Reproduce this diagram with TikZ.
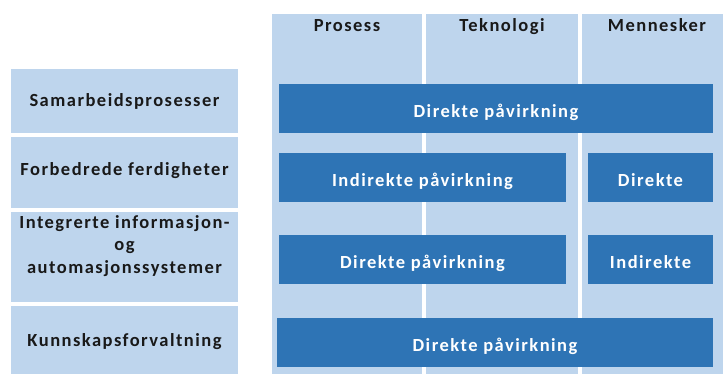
\documentclass[tikz,border=0pt]{standalone}
\usepackage{fontspec}
\setmainfont{Carlito}[LetterSpace=8]
\definecolor{lightblue}{RGB}{190,213,237}
\definecolor{darkblue}{RGB}{46,116,181}
\definecolor{labeltext}{RGB}{25,25,25}
\tikzset{
	col/.style={fill=lightblue, inner sep=0pt, minimum height=360pt},
	colhead/.style={text=labeltext, font=\fontsize{18.5}{22.5}\selectfont\bfseries, text height=12pt, text depth=0pt, inner sep=0pt},
	rowbox/.style={fill=lightblue, inner sep=0pt, minimum width=227pt, text=labeltext, font=\fontsize{18.5}{22.5}\selectfont\bfseries, text height=12pt, text depth=0pt},
	effect/.style={fill=darkblue, inner sep=0pt, minimum height=49pt, text=white, font=\fontsize{18.5}{22.5}\selectfont\bfseries, text height=18pt, text depth=0pt}
}
\begin{document}
\begin{tikzpicture}[x=1pt, y=-1pt]
	\useasboundingbox (0,0) rectangle (723,374);
	% columns
	\node[col, minimum width=150pt] (prosess) at (347,194) {};
	\node[col, minimum width=152pt] (teknologi) at (502,194) {};
	\node[col, minimum width=141pt] (mennesker) at (652.5,194) {};
	\node[colhead] (prosessH) at (347,25.5) {Prosess};
	\node[colhead] (teknologiH) at (502,25.5) {Teknologi};
	\node[colhead] (menneskerH) at (657,25.5) {Mennesker};
	% rows
	\node[rowbox, minimum height=64pt] (samarbeid) at (124.5,101) {Samarbeidsprosesser};
	\node[rowbox, minimum height=71pt, text height=6pt] (ferdigheter) at (124.5,172.5) {Forbedrede ferdigheter};
	\node[rowbox, minimum height=90pt] (systemer) at (124.5,257) {};
	\node[text=labeltext, font=\fontsize{18.5}{22.5}\selectfont\bfseries, align=center, inner sep=0pt] (systemerT) at (124.5,246) {Integrerte informasjon-\\og\\automasjonssystemer};
	\node[rowbox, minimum height=68pt] (kunnskap) at (124.5,340) {Kunnskapsforvaltning};
	% effects
	\node[effect, minimum width=434pt] (e1) at (496,109) {Direkte påvirkning};
	\node[effect, minimum width=287pt] (e2) at (422.5,177.5) {Indirekte påvirkning};
	\node[effect, minimum width=125pt] (e3) at (650.5,177.5) {Direkte};
	\node[effect, minimum width=287pt] (e4) at (422.5,259.5) {Direkte påvirkning};
	\node[effect, minimum width=125pt] (e5) at (650.5,259.5) {Indirekte};
	\node[effect, minimum width=436pt] (e6) at (495,342.5) {Direkte påvirkning};
\end{tikzpicture}
\end{document}
